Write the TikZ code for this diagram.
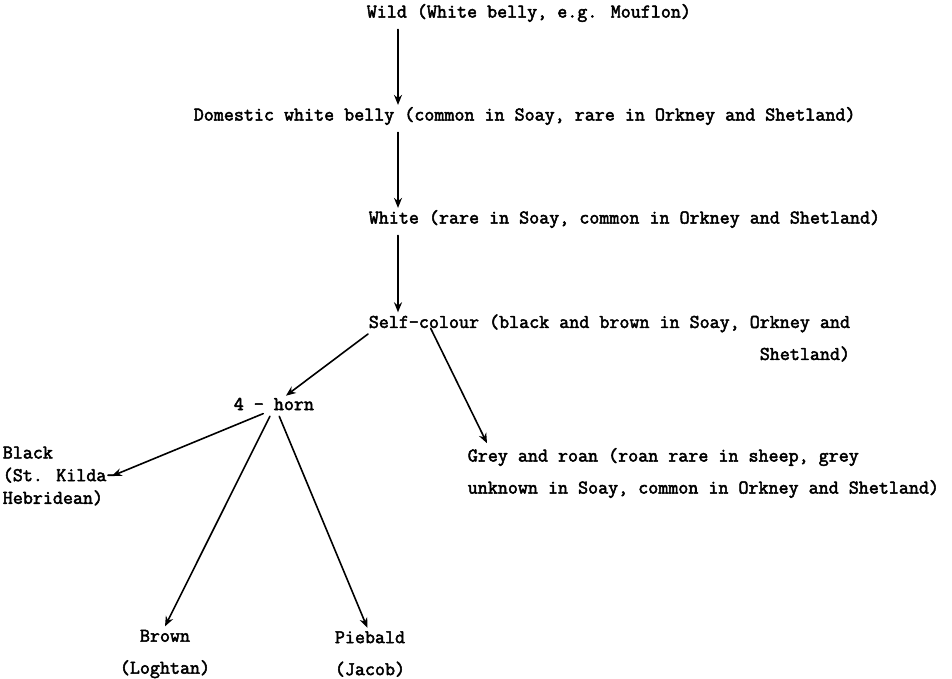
\documentclass[tikz,border=0pt]{standalone}
\usepackage{fontspec}
\newfontfamily\typer[FakeBold=2.6]{Latin Modern Mono}
\usetikzlibrary{arrows.meta}
\begin{document}
\begin{tikzpicture}[x=0.75pt,y=-0.75pt,>={Stealth[length=7.5pt,width=6pt]},line width=1.2pt,line join=round,line cap=round,
  every node/.style={inner sep=0pt,font=\typer\fontsize{14.6}{24}\selectfont}]
\useasboundingbox (0,0) rectangle (952,678);
\coordinate (spine) at (398,0);
\node[anchor=west] (wild) at (366,13) {Wild (White belly, e.g. Mouflon)};
\node[anchor=west] (domestic) at (193,116) {Domestic white belly (common in Soay, rare in Orkney and Shetland)};
\node[anchor=west] (white) at (368,219) {White (rare in Soay, common in Orkney and Shetland)};
\node[anchor=west,align=right] (self) at (368,338) {Self-colour (black and brown in Soay, Orkney and\\Shetland)};
\node[anchor=west] (horn) at (233,404) {4 - horn};
\node[anchor=west,align=left,font=\typer\fontsize{14.6}{17}\selectfont] (black) at (2,476) {Black\\(St. Kilda-\\Hebridean)};
\node[anchor=west,align=left] (grey) at (467,473) {Grey and roan (roan rare in sheep, grey\\unknown in Soay, common in Orkney and Shetland)};
\node[align=center] (brown) at (165,654) {Brown\\(Loghtan)};
\node[align=center] (piebald) at (370,654) {Piebald\\(Jacob)};
% main line
\draw[->,shorten <=5pt,shorten >=1pt] (wild.south -| spine)--(domestic.north -| spine);
\draw[->,shorten <=5pt,shorten >=1pt] (domestic.south -| spine)--(white.north -| spine);
\draw[->,shorten <=5pt,shorten >=1pt] (white.south -| spine)--(self.north -| spine);
% branches
\draw[->] ([yshift=3pt]self.west)--([xshift=9pt,yshift=1pt]horn.north);
\draw[->] ([xshift=47pt,yshift=-11pt]self.north west)--([xshift=15pt,yshift=3pt]grey.north west);
\draw[->] ([xshift=-8pt,yshift=-2pt]horn.south)--([xshift=-4pt]black.east);
\draw[->] ([xshift=-3pt,yshift=-4pt]horn.south)--([yshift=2pt]brown.north);
\draw[->] ([xshift=4pt,yshift=-4pt]horn.south)--([xshift=-2pt,yshift=2pt]piebald.north);
\end{tikzpicture}
\end{document}
